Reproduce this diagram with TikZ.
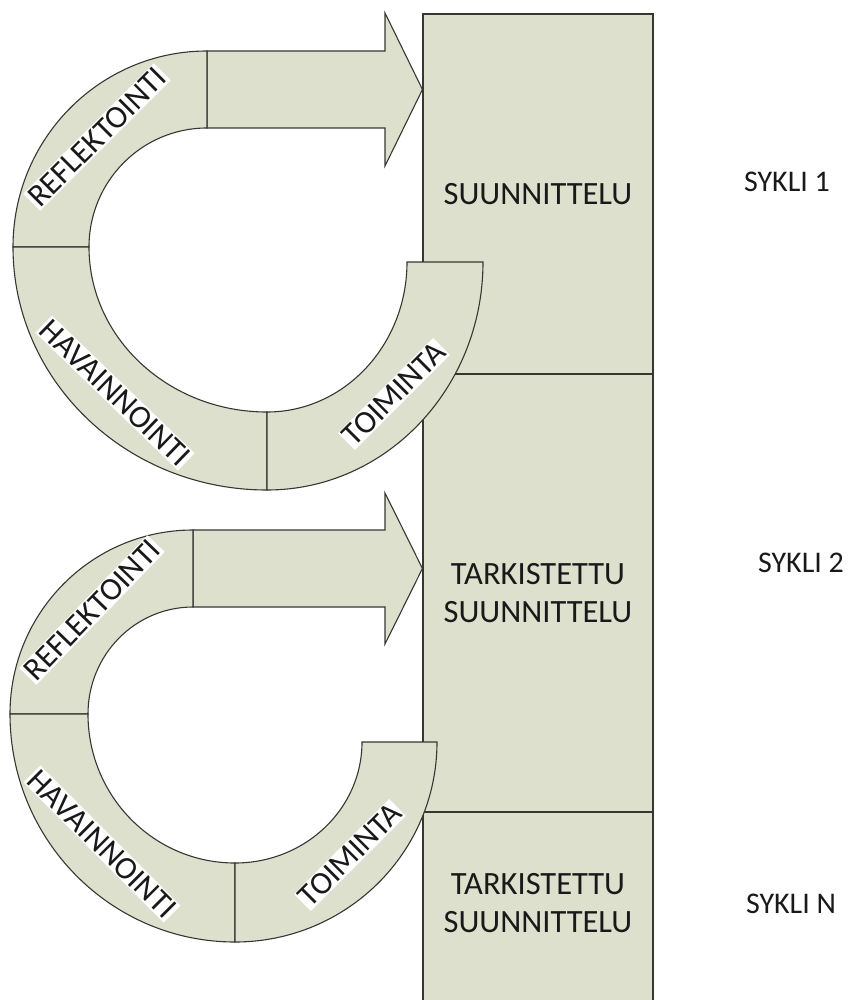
\documentclass[tikz,border=0pt]{standalone}
\usepackage{fontspec}
\setmainfont{Carlito}
\definecolor{sage}{RGB}{221,224,205}
\definecolor{ink}{RGB}{25,25,25}
\definecolor{edge}{RGB}{55,55,50}

\begin{document}
\begin{tikzpicture}[x=1pt, y=1pt, yscale=-1,
  seg/.style={fill=sage, draw=edge, line width=1.1pt, line join=miter},
  box/.style={draw=edge, fill=sage, line width=1.1pt, minimum width=230pt,
              text=ink, align=center, inner sep=0pt,
              font=\fontsize{32.5}{38}\selectfont},
  tag/.style={fill=white, text=ink, inner sep=1.5pt,
              font=\fontsize{32}{36}\selectfont},
  cyc/.style={text=ink, font=\fontsize{30}{36}\selectfont}]

\useasboundingbox (0,0) rectangle (853,1000);
\clip (0,0) rectangle (853,1000);

% planning column
\node[box, minimum height=360pt] (plan1) at (538,194) {SUUNNITTELU};
\node[box, minimum height=438pt] (plan2) at (538,593) {TARKISTETTU\\SUUNNITTELU};
\node[box, minimum height=192pt, text depth=10pt] (plan3) at (538,908) {TARKISTETTU\\SUUNNITTELU};

% cycle 1: straight arrow into the plan
\draw[seg] (207,51) -- (385,51) -- (385,13) -- (plan1.west |- 0,89.5)
  -- (385,166) -- (385,128) -- (207,128) -- cycle;
% cycle 1: curved segments
\draw[seg] (207,51) arc[start angle=270, end angle=180, x radius=194pt, y radius=196pt]
  -- (89,247) arc[start angle=180, end angle=270, x radius=118pt, y radius=119pt] -- cycle;
\draw[seg] (13,247) arc[start angle=180, end angle=90, x radius=254pt, y radius=243pt]
  -- (267,412) arc[start angle=90, end angle=180, x radius=178pt, y radius=165pt] -- cycle;
\draw[seg] (267,490) arc[start angle=90, end angle=0, x radius=216pt, y radius=228pt]
  -- (407,262) arc[start angle=0, end angle=90, x radius=140pt, y radius=150pt] -- cycle;

% cycle 2: straight arrow into the revised plan
\draw[seg] (193,530) -- (385,530) -- (385,493) -- (plan2.west |- 0,568.5)
  -- (385,644) -- (385,607) -- (193,607) -- cycle;
% cycle 2: curved segments
\draw[seg] (193,530) arc[start angle=270, end angle=180, x radius=183pt, y radius=184pt]
  -- (88,714) arc[start angle=180, end angle=270, x radius=105pt, y radius=107pt] -- cycle;
\draw[seg] (10,714) arc[start angle=180, end angle=90, x radius=225pt, y radius=228pt]
  -- (235,863) arc[start angle=90, end angle=180, x radius=147pt, y radius=149pt] -- cycle;
\draw[seg] (235,942) arc[start angle=90, end angle=0, x radius=202pt, y radius=200pt]
  -- (362,742) arc[start angle=0, end angle=90, x radius=127pt, y radius=121pt] -- cycle;

% phase labels
\node[tag, rotate=45]  (refl1) at (97,137)  {REFLEKTOINTI};
\node[tag, rotate=-44] (hav1)  at (115,393) {HAVAINNOINTI};
\node[tag, rotate=45]  (toim1) at (394,394) {TOIMINTA};
\node[tag, rotate=46]  (refl2) at (92,610)  {REFLEKTOINTI};
\node[tag, rotate=-45] (hav2)  at (102,844) {HAVAINNOINTI};
\node[tag, rotate=45]  (toim2) at (350,855) {TOIMINTA};

% cycle names
\node[cyc] (syk1) at (787,182) {SYKLI 1};
\node[cyc] (syk2) at (801,563) {SYKLI 2};
\node[cyc] (sykn) at (791,904) {SYKLI N};
\end{tikzpicture}
\end{document}
